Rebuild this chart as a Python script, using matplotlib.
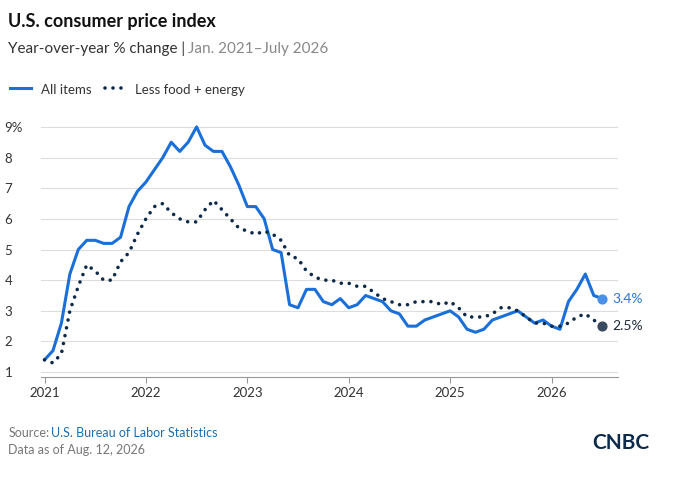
import matplotlib
matplotlib.use("Agg")
import matplotlib.pyplot as plt
import numpy as np

plt.rcParams['font.family'] = ['Lato', 'DejaVu Sans']

all_items = [1.4,1.7,2.6,4.2,5.0,5.3,5.3,5.2,5.2,5.4,6.4,6.9,
             7.2,7.6,8.0,8.5,8.2,8.5,9.0,8.4,8.2,8.2,7.7,7.1,
             6.4,6.4,6.0,5.0,4.9,3.2,3.1,3.7,3.7,3.3,3.2,3.4,
             3.1,3.2,3.5,3.4,3.3,3.0,2.9,2.5,2.5,2.7,2.8,2.9,
             3.0,2.8,2.4,2.3,2.4,2.7,2.8,2.9,3.0,2.8,2.6,2.7,
             2.5,2.4,3.3,3.7,4.2,3.5,3.4]
core = [1.4,1.3,1.6,3.0,3.8,4.5,4.3,4.0,4.0,4.6,4.9,5.5,
        6.0,6.4,6.5,6.2,6.0,5.9,5.9,6.3,6.6,6.3,6.0,5.7,
        5.6,5.5,5.6,5.5,5.3,4.8,4.7,4.3,4.1,4.0,4.0,3.9,
        3.9,3.8,3.8,3.6,3.4,3.3,3.2,3.2,3.3,3.3,3.3,3.2,
        3.3,3.1,2.8,2.8,2.8,2.9,3.1,3.1,3.0,2.8,2.6,2.6,
        2.5,2.5,2.6,2.8,2.9,2.7,2.5]
x = 2021 + np.arange(len(all_items)) / 12
yticks = [1,2,3,4,5,6,7,8,9]
ytick_labels = ["1","2","3","4","5","6","7","8","9%"]
xticks = [2021,2022,2023,2024,2025,2026]

blue = "#1a6fd8"; navy = "#0d2a4a"
dots = (0,(0.01,2.2))
fig = plt.figure(figsize=(6.91,4.83), dpi=100)
ax = fig.add_axes([0.06, 0.22, 0.835, 0.53])
ax.plot(x, all_items, color=blue, lw=2.2, solid_joinstyle="round", solid_capstyle="round")
ax.plot(x, core, color=navy, lw=2.6, linestyle=dots, dash_capstyle="round")
ax.scatter([x[-1]],[all_items[-1]], s=40, color="#4a90e8", zorder=5)
ax.scatter([x[-1]],[core[-1]], s=40, color="#3a4a5e", zorder=5)
ax.text(x[-1]+0.1, all_items[-1], "3.4%", color="#2a78d8", va="center", fontsize=10)
ax.text(x[-1]+0.1, core[-1], "2.5%", color="#1d2b3a", va="center", fontsize=10)
ax.set_xlim(2021-0.03, 2026.66)
ax.set_ylim(0.85, 9.2)
ax.set_yticks(yticks)
ax.set_yticklabels(ytick_labels)
ax.set_xticks(xticks)
ax.set_xticklabels([str(v) for v in xticks])
ax.grid(axis="y", color="#dddddd", lw=0.8)
for s in ["top","right","left"]:
    ax.spines[s].set_visible(False)
ax.spines["bottom"].set_color("#999999")
ax.tick_params(axis="y", length=0, labelsize=9.5, colors="#333333", pad=8)
ax.tick_params(axis="x", length=4, color="#999999", labelsize=9.5, colors="#333333")
for l in ax.get_yticklabels():
    l.set_horizontalalignment("left")
    l.set_x(-0.045)
ax.set_axisbelow(True)

fig.text(0.012, 0.945, "U.S. consumer price index", fontsize=13, fontweight="bold", color="#111111")
fig.text(0.012, 0.89, "Year-over-year % change | ", fontsize=11, color="#333333")
fig.text(0.272, 0.89, "Jan. 2021–July 2026", fontsize=11, color="#888888")
fig.lines.append(plt.Line2D([0.015,0.045],[0.818,0.818], transform=fig.transFigure, color=blue, lw=2.2))
fig.text(0.06, 0.805, "All items", fontsize=9.5, color="#333333")
fig.lines.append(plt.Line2D([0.152,0.18],[0.818,0.818], transform=fig.transFigure, color=navy, lw=2.6, linestyle=dots, dash_capstyle="round"))
fig.text(0.195, 0.805, "Less food + energy", fontsize=9.5, color="#333333")
fig.text(0.012, 0.095, "Source:", fontsize=9, color="#777777")
fig.text(0.074, 0.095, "U.S. Bureau of Labor Statistics", fontsize=9, color="#1a6fb0")
fig.text(0.012, 0.06, "Data as of Aug. 12, 2026", fontsize=9, color="#777777")
fig.text(0.94, 0.07, "CNBC", fontsize=15, fontweight="bold", color="#0d2a4a", ha="right")
fig.savefig("out.png", dpi=100, facecolor="white")
